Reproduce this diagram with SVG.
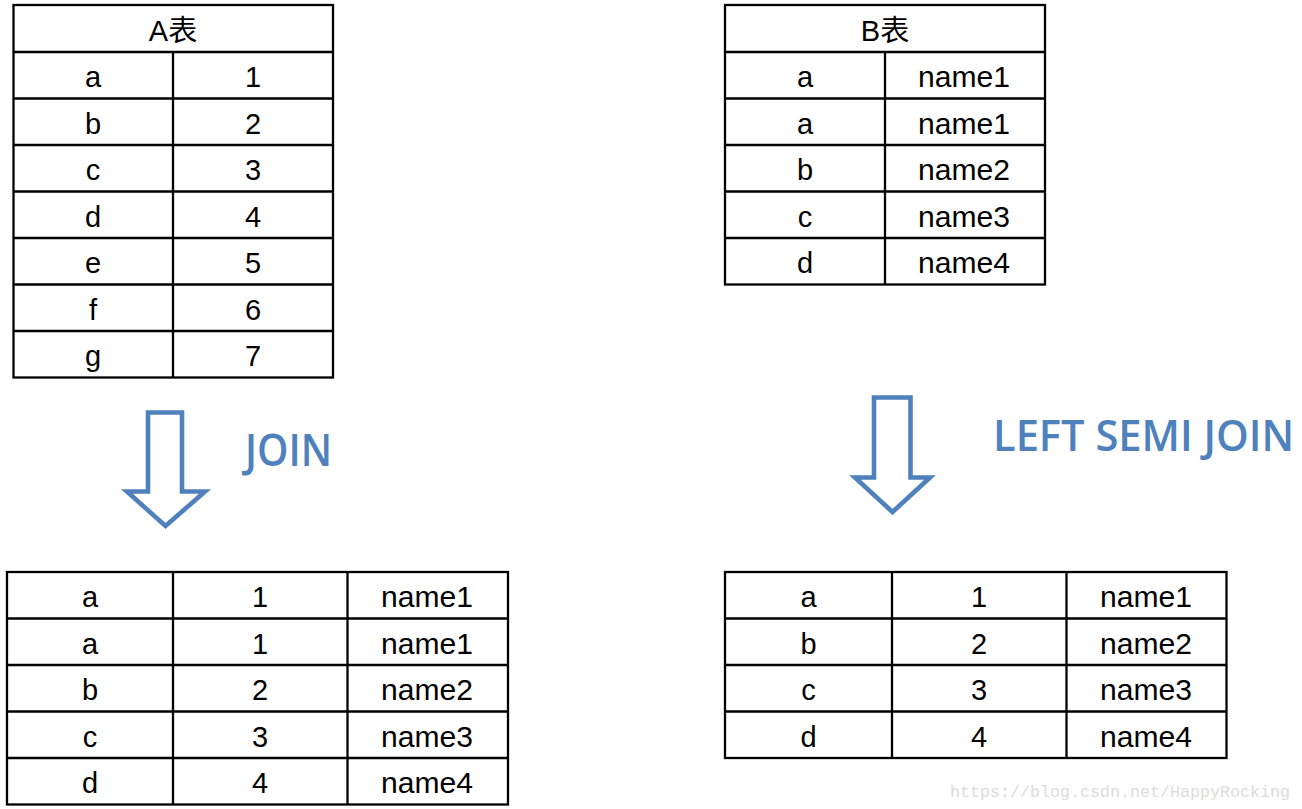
<svg xmlns="http://www.w3.org/2000/svg" width="1302" height="809" viewBox="0 0 1302 809">
<style>
.g{fill:none;stroke:#000;stroke-width:2.3}
.t{font-family:"Liberation Sans","Noto Sans CJK SC",sans-serif;font-size:29px;fill:#000;text-anchor:middle}
.arr{fill:none;stroke:#4F81BD;stroke-width:4.6;stroke-linejoin:miter}
.lbl{font-family:"Open Sans","Liberation Sans",sans-serif;font-weight:600;fill:#4F81BD}
.wm{font-family:"Liberation Mono","DejaVu Sans Mono",monospace;font-size:17px;fill:#dcdcdc}
</style>
<rect width="1302" height="809" fill="#fff"/>
<g id="tableA">
<rect class="g" x="13.5" y="5" width="319.5" height="372.5"/>
<path class="g" d="M173 52V377.5M13.5 52H333M13.5 98.5H333M13.5 145H333M13.5 191.5H333M13.5 238H333M13.5 284.5H333M13.5 331H333"/>
<text class="t" x="173" y="41">A表</text>
<text class="t" x="93" y="87">a</text><text class="t" x="253" y="87">1</text>
<text class="t" x="93" y="133.5">b</text><text class="t" x="253" y="133.5">2</text>
<text class="t" x="93" y="180">c</text><text class="t" x="253" y="180">3</text>
<text class="t" x="93" y="226.5">d</text><text class="t" x="253" y="226.5">4</text>
<text class="t" x="93" y="273">e</text><text class="t" x="253" y="273">5</text>
<text class="t" x="93" y="319.5">f</text><text class="t" x="253" y="319.5">6</text>
<text class="t" x="93" y="366">g</text><text class="t" x="253" y="366">7</text>
</g>
<g id="tableB">
<rect class="g" x="725" y="5" width="320" height="279.5"/>
<path class="g" d="M885 52V284.5M725 52H1045M725 98.5H1045M725 145H1045M725 191.5H1045M725 238H1045"/>
<text class="t" x="885" y="41">B表</text>
<text class="t" x="805" y="87">a</text><text class="t" x="964" y="87" textLength="92" lengthAdjust="spacingAndGlyphs">name1</text>
<text class="t" x="805" y="133.5">a</text><text class="t" x="964" y="133.5" textLength="92" lengthAdjust="spacingAndGlyphs">name1</text>
<text class="t" x="805" y="180">b</text><text class="t" x="964" y="180" textLength="92" lengthAdjust="spacingAndGlyphs">name2</text>
<text class="t" x="805" y="226.5">c</text><text class="t" x="964" y="226.5" textLength="92" lengthAdjust="spacingAndGlyphs">name3</text>
<text class="t" x="805" y="273">d</text><text class="t" x="964" y="273" textLength="92" lengthAdjust="spacingAndGlyphs">name4</text>
</g>
<g id="connectors">
<path id="arrowJoin" class="arr" d="M148 412.5H182V491.5H205L165.5 526L127 491.5H148Z"/>
<path id="arrowSemi" class="arr" d="M874 397.5H910.5V477.5H930L892.5 512L855 477.5H874Z"/>
</g>
<g id="labelJoin"><text class="lbl" x="245" y="466" font-size="45" textLength="87" lengthAdjust="spacingAndGlyphs">JOIN</text></g>
<g id="labelSemi"><text class="lbl" x="993" y="451" font-size="43" textLength="301" lengthAdjust="spacingAndGlyphs">LEFT SEMI JOIN</text></g>
<g id="tableJoin">
<rect class="g" x="7" y="572" width="501" height="232.5"/>
<path class="g" d="M173 572V804.5M347.5 572V804.5M7 618.5H508M7 665H508M7 711.5H508M7 758H508"/>
<text class="t" x="90" y="607">a</text><text class="t" x="260" y="607">1</text><text class="t" x="427" y="607" textLength="92" lengthAdjust="spacingAndGlyphs">name1</text>
<text class="t" x="90" y="653.5">a</text><text class="t" x="260" y="653.5">1</text><text class="t" x="427" y="653.5" textLength="92" lengthAdjust="spacingAndGlyphs">name1</text>
<text class="t" x="90" y="700">b</text><text class="t" x="260" y="700">2</text><text class="t" x="427" y="700" textLength="92" lengthAdjust="spacingAndGlyphs">name2</text>
<text class="t" x="90" y="746.5">c</text><text class="t" x="260" y="746.5">3</text><text class="t" x="427" y="746.5" textLength="92" lengthAdjust="spacingAndGlyphs">name3</text>
<text class="t" x="90" y="793">d</text><text class="t" x="260" y="793">4</text><text class="t" x="427" y="793" textLength="92" lengthAdjust="spacingAndGlyphs">name4</text>
</g>
<g id="tableSemi">
<rect class="g" x="725" y="572" width="501.5" height="186"/>
<path class="g" d="M892 572V758M1066.5 572V758M725 618.5H1226.5M725 665H1226.5M725 711.5H1226.5"/>
<text class="t" x="808.5" y="607">a</text><text class="t" x="979" y="607">1</text><text class="t" x="1146" y="607" textLength="92" lengthAdjust="spacingAndGlyphs">name1</text>
<text class="t" x="808.5" y="653.5">b</text><text class="t" x="979" y="653.5">2</text><text class="t" x="1146" y="653.5" textLength="92" lengthAdjust="spacingAndGlyphs">name2</text>
<text class="t" x="808.5" y="700">c</text><text class="t" x="979" y="700">3</text><text class="t" x="1146" y="700" textLength="92" lengthAdjust="spacingAndGlyphs">name3</text>
<text class="t" x="808.5" y="746.5">d</text><text class="t" x="979" y="746.5">4</text><text class="t" x="1146" y="746.5" textLength="92" lengthAdjust="spacingAndGlyphs">name4</text>
</g>
<g id="watermark"><text class="wm" x="950" y="797" textLength="340" lengthAdjust="spacingAndGlyphs">https://blog.csdn.net/HappyRocking</text></g>
</svg>
